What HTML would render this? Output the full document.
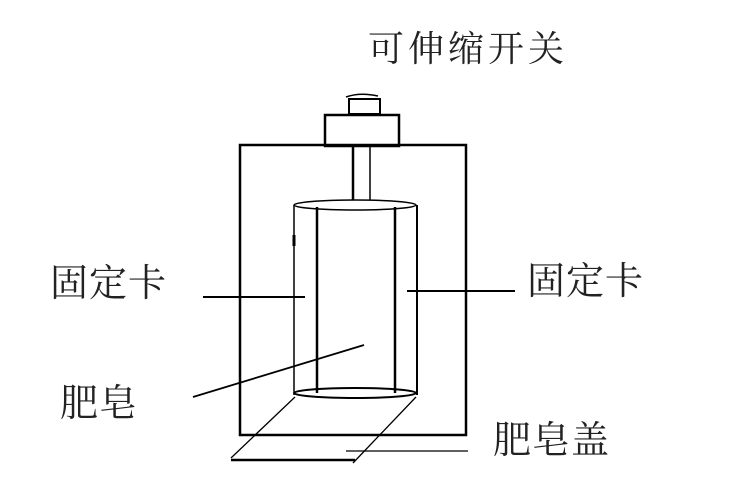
<!DOCTYPE html>
<html><head><meta charset="utf-8"><style>
html,body{margin:0;padding:0;background:#fff;}
svg{display:block;}
text{font-family:"Liberation Serif","Noto Serif CJK SC",serif;fill:#222;}
</style></head><body>
<svg width="737" height="488" viewBox="0 0 737 488" xmlns="http://www.w3.org/2000/svg">
<g fill="none" stroke="#000">
<rect x="240" y="145" width="226" height="290" stroke-width="2.5"/>
<rect x="325" y="115" width="74" height="31" stroke-width="2.5"/>
<rect x="349" y="99" width="31" height="15" stroke-width="2"/>
<path d="M346 97 Q360 92 378 96" stroke-width="1.5"/>
<line x1="353" y1="146" x2="353" y2="200" stroke-width="2.5"/>
<line x1="370" y1="146" x2="370" y2="200" stroke-width="1.5"/>
<ellipse cx="355" cy="205" rx="61" ry="5" stroke-width="1.5"/>
<line x1="294" y1="205" x2="294" y2="395" stroke-width="1.5"/>
<line x1="317" y1="207" x2="317" y2="393" stroke-width="2.5"/>
<line x1="395" y1="207" x2="395" y2="393" stroke-width="2.5"/>
<line x1="417" y1="205" x2="417" y2="395" stroke-width="2"/>
<ellipse cx="355" cy="393" rx="61" ry="5" stroke-width="2"/>
<line x1="294" y1="235" x2="294" y2="246" stroke-width="3"/>
<line x1="203" y1="297" x2="305" y2="297" stroke-width="2"/>
<line x1="407" y1="291" x2="515" y2="291" stroke-width="2"/>
<line x1="193" y1="397" x2="364" y2="345" stroke-width="1.8"/>
<line x1="295" y1="397" x2="231" y2="458" stroke-width="1.3"/>
<line x1="416" y1="397" x2="353" y2="463" stroke-width="1.3"/>
<line x1="231" y1="460" x2="355" y2="460" stroke-width="2.5"/>
<line x1="346" y1="451" x2="468" y2="451" stroke-width="1.3"/>
</g>
<text x="368" y="61" font-size="36" letter-spacing="4">可伸缩开关</text>
<text x="50" y="296" font-size="38" letter-spacing="1">固定卡</text>
<text x="527" y="294" font-size="38" letter-spacing="1">固定卡</text>
<text x="60" y="416" font-size="38" letter-spacing="1">肥皂</text>
<text x="493" y="453" font-size="38" letter-spacing="1">肥皂盖</text>
</svg>
</body></html>
